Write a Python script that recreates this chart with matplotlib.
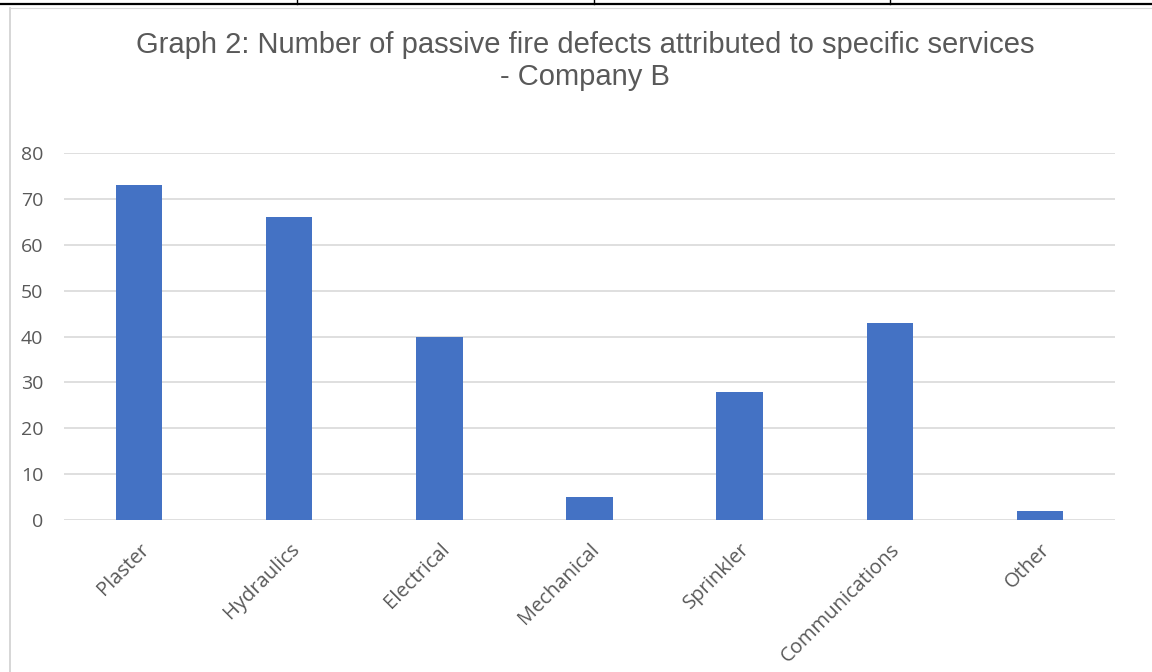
import matplotlib.pyplot as plt
from matplotlib.lines import Line2D

categories = ["Plaster", "Hydraulics", "Electrical", "Mechanical",
              "Sprinkler", "Communications", "Other"]
defects = [73, 66, 40, 5, 28, 43, 2]
y_ticks = [0, 10, 20, 30, 40, 50, 60, 70, 80]

W, H = 1152, 672
fig = plt.figure(figsize=(W / 100, H / 100), dpi=100)
fig.patch.set_facecolor("white")

# surrounding table frame
fig.add_artist(Line2D([0, 1], [1 - 4 / H, 1 - 4 / H], color="black", lw=1.6))
for xv in (297, 594, 890):
    fig.add_artist(Line2D([xv / W, xv / W], [1 - 4 / H, 1], color="black", lw=1.0))
fig.add_artist(Line2D([10 / W, 10 / W], [0, 1 - 8 / H], color="#d0d0d0", lw=1.2))
fig.add_artist(Line2D([10 / W, 1], [1 - 8 / H, 1 - 8 / H], color="#d9d9d9", lw=0.8))

ax = fig.add_axes([64 / W, 152 / H, (1115 - 64) / W, (520 - 153) / H])
x = range(len(categories))
ax.bar(x, defects, width=0.31, color="#4472c4", zorder=3)

ax.set_xlim(-0.5, len(categories) - 0.5)
ax.set_ylim(0, 80)
ax.set_yticks(y_ticks)
ax.grid(axis="y", color="#d9d9d9", lw=1.2, zorder=0)
for s in ax.spines.values():
    s.set_visible(False)
ax.tick_params(length=0)
ax.set_yticklabels([str(v) for v in y_ticks], fontsize=14,
                   color="#595959", family="Open Sans")
ax.tick_params(axis="y", pad=15)
ax.set_xticks(list(x))
ax.set_xticklabels(categories, rotation=45, ha="right", rotation_mode="anchor",
                   fontsize=14.5, color="#595959", family="Open Sans")
ax.tick_params(axis="x", pad=14)

fig.text(585 / W, 1 - 45 / H,
         "Graph 2: Number of passive fire defects attributed to specific services",
         ha="center", va="center", fontsize=21, color="#595959",
         family="Liberation Sans")
fig.text(585 / W, 1 - 77 / H, "- Company B",
         ha="center", va="center", fontsize=21, color="#595959",
         family="Liberation Sans")

fig.savefig("out.png", dpi=100, facecolor="white")
